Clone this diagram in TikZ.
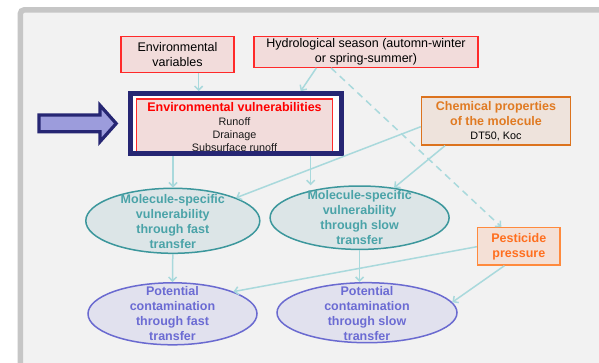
\documentclass[tikz,border=0pt]{standalone}
\usepackage{fontspec}
\setmainfont{Liberation Sans}
\usetikzlibrary{arrows.meta,shapes.geometric}
\definecolor{panelfill}{HTML}{F2F2F2}
\definecolor{panelborder}{HTML}{C6C6C6}
\definecolor{envfill}{HTML}{F2DCDB}
\definecolor{envred}{HTML}{FF2A2A}
\definecolor{navyc}{HTML}{262673}
\definecolor{arrowfill}{HTML}{9C9CDC}
\definecolor{chemborder}{HTML}{DC731E}
\definecolor{chemfill}{HTML}{EEE3DC}
\definecolor{chemtext}{HTML}{E07A22}
\definecolor{pestborder}{HTML}{FF8A3D}
\definecolor{pestfill}{HTML}{F4E0D6}
\definecolor{pesttext}{HTML}{FF6F1F}
\definecolor{tealborder}{HTML}{3C979C}
\definecolor{tealfill}{HTML}{DCE5E7}
\definecolor{tealtext}{HTML}{4AA3A8}
\definecolor{purpborder}{HTML}{6A6AD0}
\definecolor{purpfill}{HTML}{E1E1EE}
\definecolor{purptext}{HTML}{6B6BD3}
\definecolor{connc}{HTML}{A9D9DC}
\begin{document}
\begin{tikzpicture}[x=1pt,y=-1pt,
  mainfont/.style={font=\fontsize{12.5}{15}\selectfont},
  envbox/.style={draw=envred, fill=envfill, line width=1.4pt, inner sep=0pt, align=center, mainfont, text=black},
  evtitle/.style={inner sep=0pt, font=\fontsize{12.5}{15}\selectfont\bfseries, text=red},
  smalltext/.style={inner sep=0pt, align=center, font=\fontsize{10.8}{13}\selectfont, text=black!90},
  chembox/.style={draw=chemborder, fill=chemfill, line width=1.4pt, inner sep=0pt, align=center, font=\fontsize{12.5}{15}\selectfont\bfseries, text=chemtext},
  pestbox/.style={draw=pestborder, fill=pestfill, line width=1.5pt, inner sep=0pt, align=center, font=\fontsize{12.5}{15}\selectfont\bfseries, text=pesttext},
  tealell/.style={ellipse, draw=tealborder, fill=tealfill, line width=1.5pt, inner sep=0pt},
  tealtxt/.style={inner sep=0pt, align=center, font=\fontsize{12.5}{15}\selectfont\bfseries, text=tealtext},
  purpell/.style={ellipse, draw=purpborder, fill=purpfill, line width=1.5pt, inner sep=0pt},
  purptxt/.style={inner sep=0pt, align=center, font=\fontsize{12.5}{15}\selectfont\bfseries, text=purptext},
  conn/.style={draw=connc, line width=1.5pt, -{Straight Barb[length=4pt,width=8pt]}},
  dashconn/.style={conn, dash pattern=on 7pt off 5pt}
]
\useasboundingbox (0,0) rectangle (599,362);
\clip (0,0) rectangle (599,362);
\fill[white] (0,0) rectangle (599,362);
\draw[draw=panelborder, fill=panelfill, line width=5.5pt, rounded corners=4pt] (20.3,9.8) rectangle (650,420);

% top boxes
\node[envbox, minimum width=113pt, minimum height=36pt] (envvar) at (177.5,54.3) {Environmental\\variables};
\node[envbox, minimum width=224pt, minimum height=31pt] (hydro) at (366,51.7) {Hydrological season (automn-winter\\or spring-summer)};

% environmental vulnerabilities frame
\node[fill=white, minimum width=215pt, minimum height=64.7pt, inner sep=0pt] (ev) at (235.8,123.65) {};
\begin{scope}
\clip ([xshift=2.5pt,yshift=-2.5pt]ev.north west) rectangle ([xshift=-2.5pt,yshift=2.5pt]ev.south east);
\node[envbox, anchor=north, minimum width=195.6pt, minimum height=75pt] (evin) at (234.5,98.3) {};
\node[evtitle] (evt) at (234.5,107.3) {Environmental vulnerabilities};
\node[smalltext] (evb) at (234.5,134.6) {Runoff\\Drainage\\Subsurface runoff};
\end{scope}
\draw[navyc, line width=5pt] ([xshift=2.5pt,yshift=-2.5pt]ev.north west) rectangle ([xshift=-2.5pt,yshift=2.5pt]ev.south east);

% big arrow
\draw[navyc, fill=arrowfill, line width=3.2pt, line join=miter] (38.9,114.9) -- (99.9,114.9) -- (99.9,105.2) -- (116.2,123.5) -- (99.9,141.8) -- (99.9,131.7) -- (38.9,131.7) -- cycle;

% chemical and pesticide boxes
\node[chembox, minimum width=149pt, minimum height=48pt] (chem) at (496,121) {Chemical properties\\of the molecule\\[-1.5pt]{\color{black}\fontsize{10.8}{13}\selectfont\mdseries DT50, Koc}};
\node[pestbox, minimum width=82.4pt, minimum height=37.3pt] (pest) at (518.8,246.3) {Pesticide\\pressure};

% ellipses
\node[tealell, minimum width=174pt, minimum height=65pt] (e1) at (172.8,220.8) {};
\node[tealtxt] (e1t) at (172.8,221.7) {Molecule-specific\\vulnerability\\through fast\\transfer};
\node[tealell, minimum width=179pt, minimum height=63.4pt] (e2) at (359.6,217.7) {};
\node[tealtxt] (e2t) at (359.6,218) {Molecule-specific\\vulnerability\\through slow\\transfer};
\node[purpell, minimum width=169pt, minimum height=62pt] (e3) at (172.5,313.8) {};
\node[purptxt] (e3t) at (172.5,313.7) {Potential\\contamination\\through fast\\transfer};
\node[purpell, minimum width=180pt, minimum height=60pt] (e4) at (367,312.7) {};
\node[purptxt] (e4t) at (367,313.2) {Potential\\contamination\\through slow\\transfer};

% connectors
\coordinate (a1) at ([xshift=21.2pt]envvar.south);
\draw[conn] (a1) -- (a1 |- ev.north);
\draw[conn] ([xshift=-49.6pt]hydro.south) -- ([xshift=64.9pt]ev.north);
\draw[dashconn] ([xshift=-35pt]hydro.south) -- ([xshift=-17.5pt]pest.north);
\coordinate (a4) at ([xshift=-62.8pt]ev.south);
\draw[conn] (a4) -- (a4 |- e1.north);
\coordinate (a5) at ([xshift=74.9pt]ev.south);
\draw[conn] (a5) -- (a5 |- e2.north);
\draw[conn] ([yshift=-5.7pt]chem.west) -- (e1.20);
\draw[conn] ([xshift=-51pt]chem.south) -- (e2.41);
\draw[conn] (e1.south) -- (e3.north);
\coordinate (a9) at (e2.south);
\draw[conn] (a9) -- (a9 |- e4.north);
\draw[conn] ([yshift=-0.4pt]pest.west) -- (e3.20);
\draw[conn] ([xshift=-14.4pt]pest.south) -- (e4.7);
\end{tikzpicture}
\end{document}
